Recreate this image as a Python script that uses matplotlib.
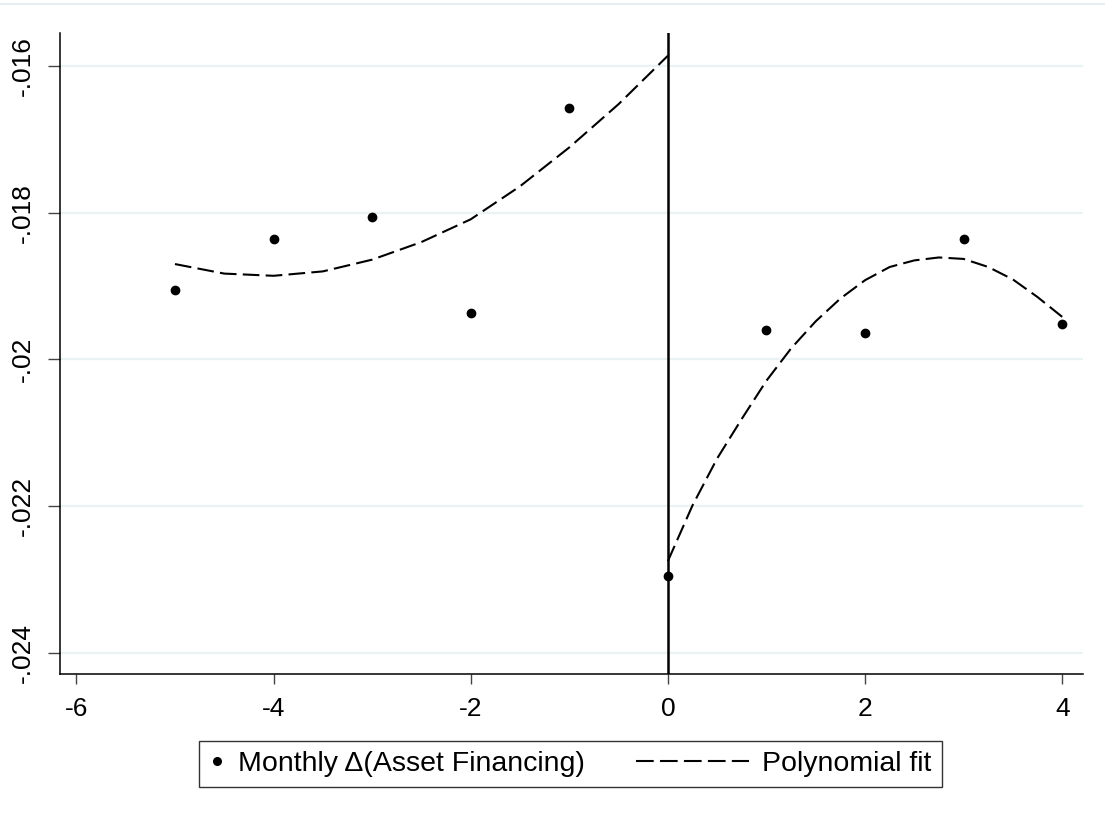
import matplotlib
matplotlib.use("Agg")
import matplotlib.pyplot as plt
from matplotlib.lines import Line2D
from matplotlib.legend_handler import HandlerLine2D

plt.rcParams['font.family'] = ['Liberation Sans', 'DejaVu Sans']

# binned monthly means
months = [-5, -4, -3, -2, -1, 0, 1, 2, 3, 4]
means = [-0.019055, -0.018362, -0.018055, -0.019363, -0.016579,
         -0.022956, -0.019598, -0.019634, -0.018362, -0.019517]

# polynomial fit, left of the cutoff
fit_left_x = [-5, -4.5, -4, -3.5, -3, -2.5, -2, -1.5, -1, -0.5, 0]
fit_left_y = [-0.01870, -0.01883, -0.01886, -0.01880, -0.01864, -0.01840,
              -0.01809, -0.01764, -0.01711, -0.01652, -0.01586]

# polynomial fit, right of the cutoff
fit_right_x = [0, 0.25, 0.5, 0.75, 1, 1.25, 1.5, 1.75, 2, 2.25, 2.5, 2.75, 3, 3.25, 3.5, 3.75, 4]
fit_right_y = [-0.02275, -0.02199, -0.02135, -0.02081, -0.02029, -0.01985, -0.01948,
               -0.01917, -0.01892, -0.01874, -0.01865, -0.01861, -0.01863, -0.01874,
               -0.01891, -0.01915, -0.01942]

xticks = [-6, -4, -2, 0, 2, 4]
yticks = [-0.016, -0.018, -0.020, -0.022, -0.024]
ytick_labels = ['-.016', '-.018', '-.02', '-.022', '-.024']


class LongDash(HandlerLine2D):
    # legend line that reaches back into the column gap, so the
    # marker entry can keep a short handle
    def __init__(self, extra, **kw):
        super().__init__(**kw)
        self.extra = extra

    def get_xdata(self, legend, xdescent, ydescent, width, height, fontsize):
        xd, xm = super().get_xdata(legend, xdescent, ydescent, width, height, fontsize)
        return [xd[0] - self.extra * fontsize, xd[-1]], xm


fig = plt.figure(figsize=(11.05, 8.25), dpi=100)
ax = fig.add_axes([0.0543, 0.183, 0.9257, 0.777])

dash = (0, (8, 3))
ax.plot(fit_left_x, fit_left_y, color='black', lw=1.5, linestyle=dash, zorder=3)
ax.plot(fit_right_x, fit_right_y, color='black', lw=1.5, linestyle=dash, zorder=3)
ax.plot(months, means, 'o', color='black', markersize=6, linestyle='none', zorder=4)
ax.axvline(0, color='black', lw=1.8, zorder=2)

ax.set_xlim(-6.166, 4.21)
ax.set_ylim(-0.024289, -0.01555)
ax.set_xticks(xticks)
ax.set_xticklabels([str(t) for t in xticks])
ax.set_yticks(yticks)
ax.set_yticklabels(ytick_labels, rotation=90, va='center')
ax.grid(axis='y', color='#eaf2f3', lw=1.6, zorder=0)
ax.set_axisbelow(True)

ax.spines['top'].set_visible(False)
ax.spines['right'].set_visible(False)
ax.spines['left'].set_linewidth(1.1)
ax.spines['bottom'].set_linewidth(1.1)
ax.tick_params(axis='both', width=1.0, color='#444444', labelsize=19)
ax.tick_params(axis='x', length=7.2, pad=9.5)
ax.tick_params(axis='y', length=9, pad=9)

dot = Line2D([], [], marker='o', color='black', markersize=5.5, linestyle='none')
fitline = Line2D([], [], color='black', lw=1.5, linestyle=(0, (8.5, 3)))
labels = ['Monthly \u0394(Asset Financing)', 'Polynomial fit']
leg = fig.legend([dot, fitline], labels, loc='center', bbox_to_anchor=(0.5163, 0.074), ncol=2,
                 fontsize=20.5, frameon=True, fancybox=False, handlelength=0.55,
                 columnspacing=5.2, handletextpad=0.47, borderpad=0.35,
                 handler_map={fitline: LongDash(3.43)})
leg.get_frame().set_edgecolor('black')
leg.get_frame().set_linewidth(1.0)

fig.add_artist(Line2D([0, 1], [0.995, 0.995], color='#e6eef0', lw=1.5))

fig.savefig('out.png', dpi=100)
